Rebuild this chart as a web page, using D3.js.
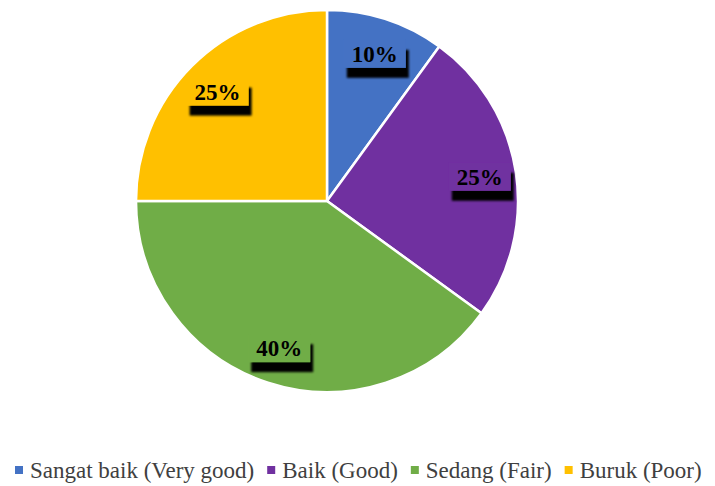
<!DOCTYPE html>
<html>
<head>
<meta charset="utf-8">
<script src="https://cdn.jsdelivr.net/npm/d3@7"></script>
<style>
  html, body { margin: 0; padding: 0; background: #fff; }
  svg text { font-family: "Liberation Serif", "DejaVu Serif", serif; }
</style>
</head>
<body>
<div id="chart"></div>
<script>
// Chart data
var categories = ['Sangat baik (Very good)', 'Baik (Good)', 'Sedang (Fair)', 'Buruk (Poor)'];
var values = [10, 25, 40, 25];
var colors = ['#4472C4', '#7030A0', '#70AD47', '#FFC000'];

var width = 715, height = 486;
var cx = 327, cy = 201, radius = 191;

var svg = d3.select('#chart').append('svg')
  .attr('width', width)
  .attr('height', height);

// drop shadow for the data labels
var defs = svg.append('defs');
var filter = defs.append('filter').attr('id', 'shadow')
  .attr('x', '-30%').attr('y', '-30%').attr('width', '160%').attr('height', '200%');
filter.append('feGaussianBlur').attr('in', 'SourceAlpha').attr('stdDeviation', 1.1).attr('result', 'blur');
filter.append('feOffset').attr('in', 'blur').attr('dx', 3).attr('dy', 10).attr('result', 'off');
var merge = filter.append('feMerge');
merge.append('feMergeNode').attr('in', 'off');
merge.append('feMergeNode').attr('in', 'SourceGraphic');

var data = categories.map(function(c, i) { return {name: c, value: values[i], color: colors[i]}; });

var pie = d3.pie().sort(null).value(function(d) { return d.value; });
var arc = d3.arc().innerRadius(0).outerRadius(radius);
var labelArc = d3.arc().innerRadius(radius * 0.81).outerRadius(radius * 0.81);

var g = svg.append('g').attr('transform', 'translate(' + cx + ',' + cy + ')');
var arcs = pie(data);

g.selectAll('path.slice')
  .data(arcs)
  .enter().append('path')
    .attr('class', 'slice')
    .attr('d', arc)
    .attr('fill', function(d) { return d.data.color; })
    .attr('stroke', '#fff')
    .attr('stroke-width', 2.5);

// Labels: filled box with shadow, bold serif text
var total = d3.sum(values);
var labels = g.selectAll('g.label')
  .data(arcs)
  .enter().append('g')
    .attr('class', 'label')
    .attr('transform', function(d) {
      var c = labelArc.centroid(d);
      return 'translate(' + c[0] + ',' + c[1] + ')';
    });

labels.append('rect')
  .attr('x', -31).attr('y', -14)
  .attr('width', 62).attr('height', 28)
  .attr('fill', function(d) { return d.data.color; })
  .attr('filter', 'url(#shadow)');

labels.append('text')
  .attr('text-anchor', 'middle')
  .attr('dy', '0.35em')
  .attr('font-weight', 'bold')
  .attr('font-size', 23)
  .attr('fill', '#000')
  .text(function(d) { return Math.round(d.data.value / total * 100) + '%'; });

// Legend
var legend = svg.append('g').attr('transform', 'translate(0,478)');
var lx = 15;
data.forEach(function(d) {
  var item = legend.append('g').attr('transform', 'translate(' + lx + ',0)');
  item.append('rect')
    .attr('x', 0).attr('y', -12)
    .attr('width', 8).attr('height', 8)
    .attr('fill', d.color);
  var t = item.append('text')
    .attr('x', 15)
    .attr('font-size', 23)
    .attr('fill', '#404040')
    .text(d.name);
  lx += 15 + t.node().getComputedTextLength() + 13;
});
</script>
</body>
</html>
